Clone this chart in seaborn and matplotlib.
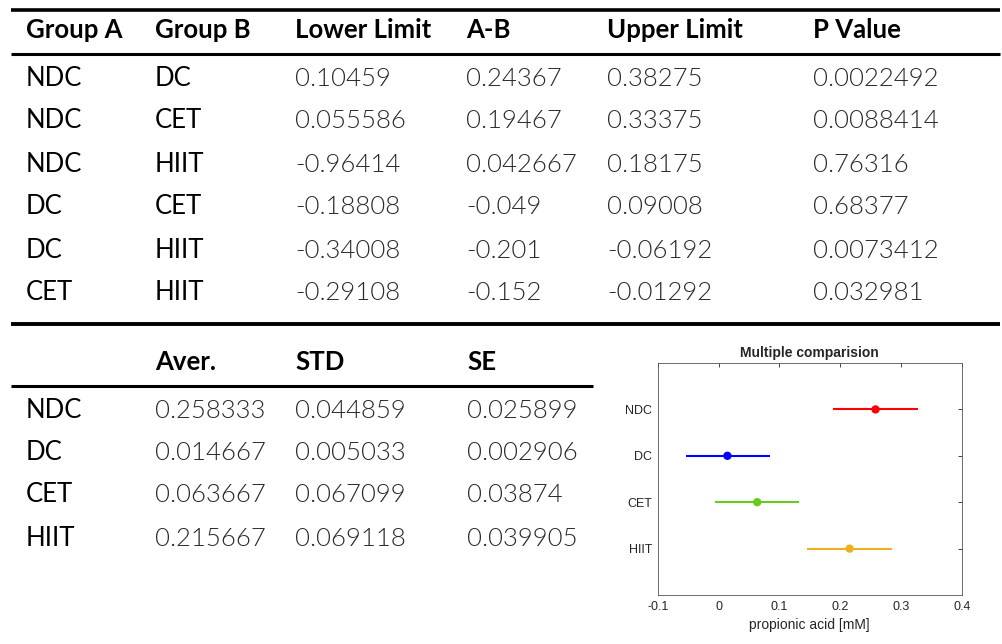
import numpy as np
import pandas as pd
import matplotlib
matplotlib.use("Agg")
import matplotlib.pyplot as plt
import seaborn as sns
from matplotlib.lines import Line2D

# === Data ===
group_a = ["NDC", "NDC", "NDC", "DC", "DC", "CET"]
group_b = ["DC", "CET", "HIIT", "CET", "HIIT", "HIIT"]
lower_limit = ["0.10459", "0.055586", "-0.96414", "-0.18808", "-0.34008", "-0.29108"]
a_minus_b = ["0.24367", "0.19467", "0.042667", "-0.049", "-0.201", "-0.152"]
upper_limit = ["0.38275", "0.33375", "0.18175", "0.09008", "-0.06192", "-0.01292"]
p_value = ["0.0022492", "0.0088414", "0.76316", "0.68377", "0.0073412", "0.032981"]
comp_headers = ["Group A", "Group B", "Lower Limit", "A-B", "Upper Limit", "P Value"]

groups = ["NDC", "DC", "CET", "HIIT"]
aver = [0.258333, 0.014667, 0.063667, 0.215667]
std = ["0.044859", "0.005033", "0.067099", "0.069118"]
se = ["0.025899", "0.002906", "0.03874", "0.039905"]
stat_headers = ["", "Aver.", "STD", "SE"]

# comparison interval
ci_low = [0.189, -0.054, -0.005, 0.146]
ci_high = [0.328, 0.084, 0.133, 0.285]
colors = ["#ff0000", "#0000ff", "#63cc1c", "#edb120"]

sns.set_style("white")
plt.rcParams["font.family"] = ["Lato", "DejaVu Sans"]

W, H = 1002, 644
fig = plt.figure(figsize=(W / 100, H / 100), dpi=100)


def fy(y):
    return 1 - y / H


def hline(y, x0, x1, lw):
    fig.add_artist(Line2D([x0 / W, x1 / W], [fy(y), fy(y)], color="black", lw=lw,
                          transform=fig.transFigure, solid_capstyle="butt"))


FS = 18.5
cap = 9.5
NUM_W = 300
NUM_C = "#2a2a2a"

# === Top table ===
hline(10, 11, 1000, 2.6)
hline(54, 11, 1000, 2.2)
hline(324, 11, 1000, 2.8)

col_x = [26, 155, 295, 466, 607, 813]
for x, h in zip(col_x, comp_headers):
    fig.text(x / W, fy(29 + cap), h, fontsize=FS, fontweight="bold", va="baseline", color="black")

row_y = [76, 119, 162, 205, 248, 291]
cols = [group_a, group_b, lower_limit, a_minus_b, upper_limit, p_value]
for j, (x, col) in enumerate(zip(col_x, cols)):
    for y, val in zip(row_y, col):
        if j < 2:
            fig.text(x / W, fy(y + cap), val, fontsize=FS, va="baseline", color="black")
        else:
            fig.text(x / W, fy(y + cap), val, fontsize=FS, va="baseline",
                     color=NUM_C, fontweight=NUM_W)

# === Bottom table ===
hline(386, 11, 593, 2.2)
stat_x = [26, 155, 295, 467]
for x, h in zip(stat_x, stat_headers):
    fig.text(x / W, fy(361 + cap), h, fontsize=FS, fontweight="bold", va="baseline", color="black")

stat_y = [408, 450, 493, 536]
stat_cols = [groups, [f"{v:.6f}" for v in aver], std, se]
for j, (x, col) in enumerate(zip(stat_x, stat_cols)):
    for y, val in zip(stat_y, col):
        if j == 0:
            fig.text(x / W, fy(y + cap), val, fontsize=FS, va="baseline", color="black")
        else:
            fig.text(x / W, fy(y + cap), val, fontsize=FS, va="baseline",
                     color=NUM_C, fontweight=NUM_W)

# === Multiple comparison plot ===
ax = fig.add_axes([657.7 / W, 1 - 595 / H, 304 / W, 232 / H])
ypos = np.arange(len(groups), 0, -1)
df = pd.DataFrame({"group": groups, "mean": aver, "y": ypos, "lo": ci_low, "hi": ci_high})

ax.hlines(df["y"], df["lo"], df["hi"], colors=colors, lw=1.5)
sns.scatterplot(data=df, x="mean", y="y", hue="group", palette=colors, s=36,
                edgecolor="none", legend=False, ax=ax, zorder=3)

ax.set_xlim(-0.1, 0.4)
ax.set_ylim(0, len(groups) + 1)
ax.set_xticks([-0.1, 0, 0.1, 0.2, 0.3, 0.4])
ax.set_xticklabels(["-0.1", "0", "0.1", "0.2", "0.3", "0.4"])
ax.set_yticks(ypos)
ax.set_yticklabels(groups)
ax.tick_params(direction="in", top=True, right=True, length=3, width=0.6,
               color="#262626", labelsize=9, labelcolor="#262626", pad=4)
for lab in ax.get_xticklabels() + ax.get_yticklabels():
    lab.set_fontfamily(["Liberation Sans", "DejaVu Sans"])
for sp in ax.spines.values():
    sp.set_color("#555555")
    sp.set_linewidth(0.6)
ax.set_xlabel("propionic acid [mM]", fontsize=10, color="#262626",
              family=["Liberation Sans", "DejaVu Sans"], labelpad=4)
ax.set_ylabel("")
ax.set_title("Multiple comparision", fontsize=10, fontweight="bold",
             family=["Liberation Sans", "DejaVu Sans"], pad=4)

fig.savefig("out.png", dpi=100)
